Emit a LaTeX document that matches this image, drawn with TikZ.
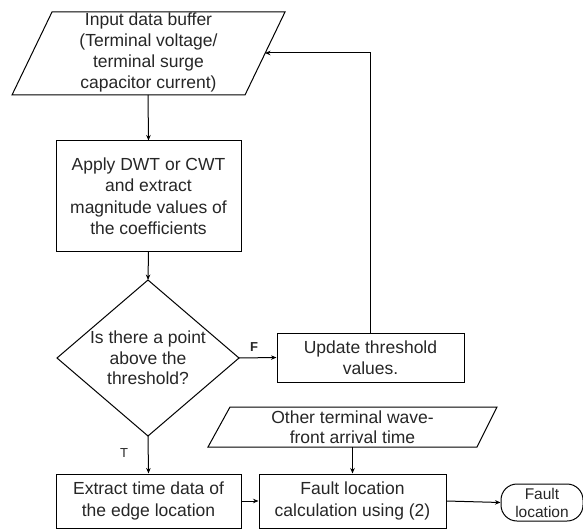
\documentclass[tikz,border=0pt]{standalone}
\usepackage{fontspec}
\setmainfont{Liberation Sans}
\usetikzlibrary{arrows.meta}
\begin{document}
\begin{tikzpicture}[x=1pt,y=-1pt,
  txt/.style={align=center,font=\fontsize{17.5}{21}\selectfont,text=black!85,inner sep=0pt},
  smalltxt/.style={align=center,font=\fontsize{15.5}{18}\selectfont,text=black!85,inner sep=0pt},
  box/.style={draw,line width=1pt,inner sep=0pt,align=center,font=\fontsize{17.5}{21.5}\selectfont,text=black!85},
  shp/.style={draw,line width=1pt},
  flow/.style={line width=1pt,-{Stealth[length=5.5pt,width=4.5pt]}},
  lbl/.style={font=\fontsize{13}{15}\selectfont,text=black!85,inner sep=0pt}]
\useasboundingbox (0,0) rectangle (583,529);

% input parallelogram
\coordinate (inTL) at (52,12);
\coordinate (inTR) at (285,12);
\coordinate (inBR) at (245,95);
\coordinate (inBL) at (12,95);
\draw[shp] (inTL) -- (inTR) -- (inBR) -- (inBL) -- cycle;
\node[txt] (input) at (148.5,52) {Input data buffer\\(Terminal voltage/\\terminal surge\\capacitor current)};
\coordinate (inB) at (148,95);
\coordinate (inR) at (265,53);

% apply box
\node[box,minimum width=185pt,minimum height=110pt] (apply) at (148.5,196)
  {Apply DWT or CWT\\and extract\\magnitude values of\\the coefficients};

% diamond
\coordinate (dT) at (148,280);
\coordinate (dR) at (239,358);
\coordinate (dB) at (148,436);
\coordinate (dL) at (57,358);
\draw[shp] (dT) -- (dR) -- (dB) -- (dL) -- cycle;
\node[txt,font=\fontsize{17.5}{20.5}\selectfont] (decide) at (148,358) {Is there a point\\above the\\threshold?};

% update box
\node[box,minimum width=187pt,minimum height=49pt] (update) at (370.5,357.5)
  {Update threshold\\values.};

% other terminal parallelogram
\coordinate (oTL) at (230,407);
\coordinate (oTR) at (497,407);
\coordinate (oBR) at (477,447);
\coordinate (oBL) at (208,447);
\draw[shp] (oTL) -- (oTR) -- (oBR) -- (oBL) -- cycle;
\node[txt,font=\fontsize{17.5}{20}\selectfont] (other) at (352.5,427) {Other terminal wave-\\front arrival time};
\coordinate (oB) at (352.5,447);

% extract box
\node[box,minimum width=185pt,minimum height=54pt] (extract) at (148.5,501)
  {Extract time data of\\the edge location};

% fault calc box
\node[box,minimum width=187pt,minimum height=54pt] (calc) at (352.5,501)
  {Fault location\\calculation using (2)};

% terminal
\node[draw,line width=1pt,rounded corners=16pt,minimum width=82pt,minimum height=37pt,inner sep=0pt,
  smalltxt] (fault) at (542,502.5) {Fault\\location};

% connectors
\draw[flow] (inB) -- (apply.north);
\draw[flow] (apply.south) -- (dT);
\draw[flow] (dR) -- (update.west);
\draw[flow] (dB) -- (extract.north);
\draw[flow] (update.north) |- (inR);
\draw[flow] (oB) -- (calc.north);
\draw[flow] (extract.east) -- (calc.west);
\draw[flow] (calc.east) -- (fault.west);

% labels
\node[lbl,font=\bfseries\fontsize{13}{15}\selectfont] (fl) at (254,347) {F};
\node[lbl] (tl) at (124,453) {T};
\end{tikzpicture}
\end{document}
